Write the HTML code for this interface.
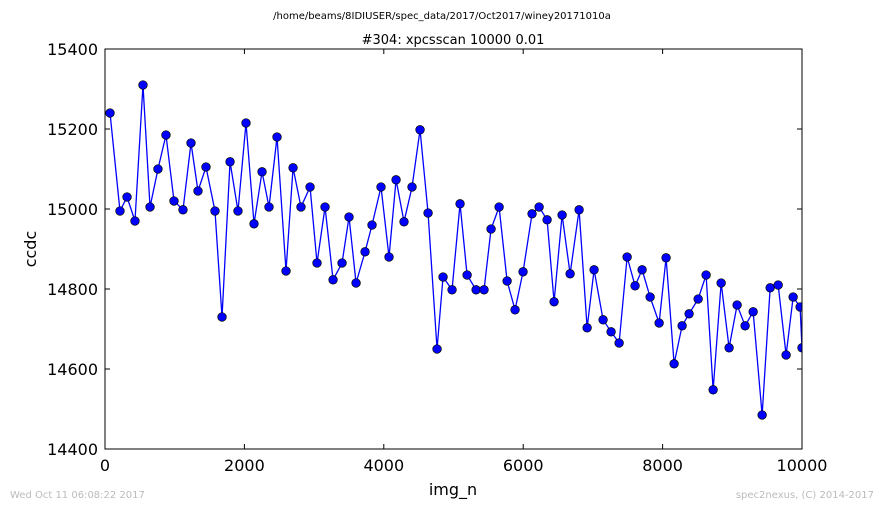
<!DOCTYPE html>
<html><head><meta charset="utf-8"><style>
body{margin:0;background:#fff;font-family:"Liberation Sans","DejaVu Sans",sans-serif;}
svg{display:block}
</style></head><body>
<svg id="chart" width="884" height="509" xmlns="http://www.w3.org/2000/svg" font-family="DejaVu Sans, Liberation Sans, sans-serif">
<rect width="884" height="509" fill="#fff"/>
<text x="442" y="19" font-size="10" text-anchor="middle">/home/beams/8IDIUSER/spec_data/2017/Oct2017/winey20171010a</text>
<text x="453" y="44" font-size="13" text-anchor="middle">#304: xpcsscan 10000 0.01</text>
<text x="36" y="249" font-size="16" text-anchor="middle" transform="rotate(-90 36 249)">ccdc</text>
<text x="453" y="495" font-size="16" text-anchor="middle">img_n</text>
<text x="10" y="498" font-size="10" fill="#bbb">Wed Oct 11 06:08:22 2017</text>
<text x="874" y="498" font-size="10" fill="#bbb" text-anchor="end">spec2nexus, (C) 2014-2017</text>
<g id="axes"></g>
<g id="series"></g>
<rect x="105" y="49" width="697" height="400" fill="none" stroke="#000" stroke-width="1"/>
</svg>
<script>
const xTicks=[0,2000,4000,6000,8000,10000];
const yTicks=[14400,14600,14800,15000,15200,15400];
const xValues=[72,215,316,430,545,646,760,875,990,1119,1234,1334,1449,1578,1679,1794,1908,2023,2138,2253,2353,2468,2597,2698,2812,2942,3042,3157,3272,3401,3501,3602,3731,3831,3960,4075,4176,4290,4405,4520,4635,4764,4850,4979,5094,5195,5324,5438,5539,5654,5769,5883,5998,6127,6228,6343,6443,6558,6673,6802,6917,7017,7146,7261,7376,7491,7605,7706,7821,7950,8050,8165,8280,8380,8510,8624,8725,8840,8954,9069,9184,9299,9428,9543,9658,9772,9873,9973,10000];
const ccdc=[15240,14995,15030,14970,15310,15005,15100,15185,15020,14998,15165,15045,15105,14995,14730,15118,14995,15215,14963,15093,15005,15180,14845,15103,15005,15055,14865,15005,14823,14865,14980,14815,14893,14960,15055,14880,15073,14968,15055,15198,14990,14650,14830,14798,15013,14835,14798,14798,14950,15005,14820,14748,14843,14988,15005,14973,14768,14985,14838,14998,14703,14848,14723,14693,14665,14880,14808,14848,14780,14715,14878,14613,14708,14738,14775,14835,14548,14815,14653,14760,14708,14743,14485,14803,14810,14635,14780,14755,14653];
const X0=105,X1=802,Y0=449,Y1=49,xmin=0,xmax=10000,ymin=14400,ymax=15400;
const sx=v=>X0+(v-xmin)/(xmax-xmin)*(X1-X0);
const sy=v=>Y0-(v-ymin)/(ymax-ymin)*(Y0-Y1);
const NS="http://www.w3.org/2000/svg";
const axes=document.getElementById('axes'),series=document.getElementById('series');
function mk(t,a,p){const e=document.createElementNS(NS,t);for(const k in a)e.setAttribute(k,a[k]);p.appendChild(e);return e;}
xTicks.forEach(v=>{const x=sx(v);
 let t=mk('line',{x1:x,x2:x,y1:Y0,y2:Y0-5,stroke:'#000'},axes);
 
 
 t=mk('line',{x1:x,x2:x,y1:Y1,y2:Y1+5,stroke:'#000'},axes);
 
 
 const l=mk('text',{x:x,y:Y0+22,'font-size':16,'text-anchor':'middle'},axes);l.textContent=v;
 
 
});
yTicks.forEach(v=>{const y=sy(v);
 let t=mk('line',{x1:X0,x2:X0+5,y1:y,y2:y,stroke:'#000'},axes);
 
 
 t=mk('line',{x1:X1,x2:X1-5,y1:y,y2:y,stroke:'#000'},axes);
 
 
 const l=mk('text',{x:X0-7,y:y+6,'font-size':16,'text-anchor':'end'},axes);l.textContent=v;
 
 
});
const cp=mk('clipPath',{id:'clip'},series);mk('rect',{x:X0,y:Y1,width:X1-X0,height:Y0-Y1},cp);
const g=mk('g',{'clip-path':'url(#clip)'},series);
const pl=mk('polyline',{points:xValues.map((x,i)=>sx(x)+','+sy(ccdc[i])).join(' '),fill:'none',stroke:'#0000ff','stroke-width':1.3},g);


xValues.forEach((x,i)=>{const c=mk('circle',{cx:sx(x),cy:sy(ccdc[i]),r:4.3,fill:'#0000ff',stroke:'#000','stroke-width':0.7},g);
 
 
});
</script>
</body></html>
